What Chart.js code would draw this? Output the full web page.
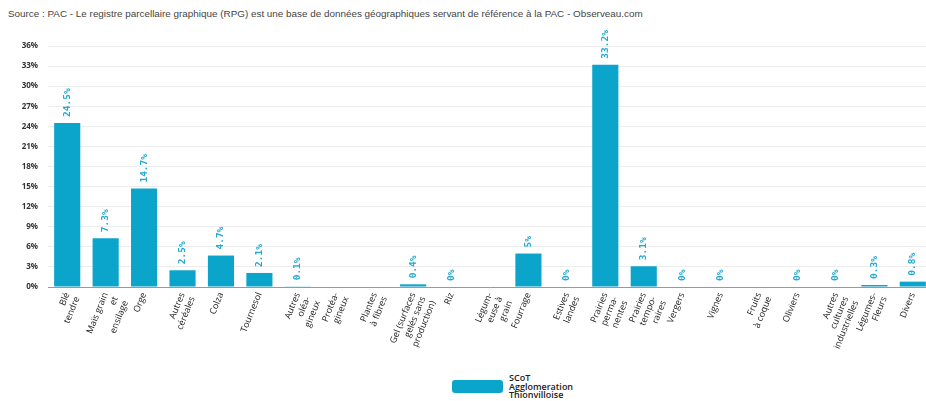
<!DOCTYPE html>
<html lang="fr">
<head>
<meta charset="UTF-8">
<title>Assolement - SCoT Agglomeration Thionvilloise</title>
<script src="https://cdn.jsdelivr.net/npm/chart.js"></script>
<style>
    body {
        margin: 0;
        background: #fff;
        overflow: hidden;
        font-family: "Liberation Sans", Arial, sans-serif;
    }
    .source {
        position: absolute;
        left: 8px;
        top: 8px;
        font-size: 9.9px;
        color: #444;
    }
    .chart-box {
        position: absolute;
        left: 0;
        top: 28px;
        width: 932px;
        height: 332px;
    }
    .legend {
        position: absolute;
        left: 452px;
        top: 374px;
        display: flex;
        align-items: center;
        font-family: "Open Sans", sans-serif;
        font-size: 9px;
        font-weight: 600;
        line-height: 8.5px;
        color: #222;
    }
    .legend .box {
        width: 51px;
        height: 13px;
        border-radius: 3px;
        background: #0ba5cb;
        margin-right: 6px;
    }
</style>
</head>
<body>
<div class="source">Source : PAC - Le registre parcellaire graphique (RPG) est une base de données géographiques servant de référence à la PAC - Observeau.com</div>
<div class="chart-box"><canvas id="rpgChart"></canvas></div>
<div class="legend"><div class="box"></div><div>SCoT<br>Agglomeration<br>Thionvilloise</div></div>

<script>
// categories (multi-line as on the picture)
var categories = [
    ['Blé', 'tendre'],
    ['Maïs grain', 'et', 'ensilage'],
    ['Orge'],
    ['Autres', 'céréales'],
    ['Colza'],
    ['Tournesol'],
    ['Autres', 'oléa-', 'gineux'],
    ['Protéa-', 'gineux'],
    ['Plantes', 'à fibres'],
    ['Gel (surfaces', 'gelés sans', 'production)'],
    ['Riz'],
    ['Légum-', 'euse à', 'grain'],
    ['Fourrage'],
    ['Estives', 'landes'],
    ['Prairies', 'perma-', 'nentes'],
    ['Prairies', 'tempo-', 'raires'],
    ['Vergers'],
    ['Vignes'],
    ['Fruits', 'à coque'],
    ['Oliviers'],
    ['Autres', 'cultures', 'industrielles'],
    ['Légumes-', 'Fleurs'],
    ['Divers']
];

// part of the agricultural area, % (null = no value shown)
var scotValues = [24.5, 7.3, 14.7, 2.5, 4.7, 2.1, 0.1, null, null, 0.4, 0, null,
                  5, 0, 33.2, 3.1, 0, 0, null, 0, 0, 0.3, 0.8];

var yTicks = [0, 3, 6, 9, 12, 15, 18, 21, 24, 27, 30, 33, 36];

var barColor = '#0ba5cb';

// value labels drawn vertically above each bar
var valueLabels = {
    id: 'valueLabels',
    afterDatasetsDraw: function(chart) {
        var ctx = chart.ctx;
        var meta = chart.getDatasetMeta(0);
        ctx.save();
        ctx.fillStyle = '#22a9d2';
        ctx.font = 'bold 9.5px "DejaVu Sans Mono", monospace';
        ctx.textAlign = 'left';
        ctx.textBaseline = 'middle';
        meta.data.forEach(function(bar, i) {
            var v = scotValues[i];
            if (v === null) return;
            ctx.save();
            ctx.translate(bar.x, bar.y - 6);
            ctx.rotate(-Math.PI / 2);
            ctx.fillText(v + '%', 0, 0);
            ctx.restore();
        });
        ctx.restore();
    }
};

new Chart(document.getElementById('rpgChart'), {
    type: 'bar',
    data: {
        labels: categories,
        datasets: [{
            label: 'SCoT Agglomeration Thionvilloise',
            data: scotValues,
            backgroundColor: barColor,
            borderWidth: 0,
            barPercentage: 0.68,
            categoryPercentage: 1
        }]
    },
    options: {
        responsive: true,
        maintainAspectRatio: false,
        animation: false,
        layout: { padding: { top: 18, right: 0, left: 0, bottom: 0 } },
        plugins: {
            legend: { display: false },
            tooltip: { enabled: false }
        },
        scales: {
            x: {
                grid: { display: false, drawTicks: false },
                border: { color: '#999', width: 1 },
                afterFit: function(scale) { scale.height = 73; },
                ticks: {
                    autoSkip: false,
                    minRotation: 68,
                    maxRotation: 68,
                    padding: 4,
                    color: '#222',
                    font: { family: '"Open Sans", sans-serif', size: 9 }
                }
            },
            y: {
                min: 0,
                max: 36,
                afterFit: function(scale) { scale.width = 48; },
                afterBuildTicks: function(scale) {
                    scale.ticks = yTicks.map(function(v) { return { value: v }; });
                },
                grid: { color: '#ececec', drawTicks: false },
                border: { display: false },
                ticks: {
                    padding: 10,
                    color: '#333',
                    font: { family: '"Open Sans", sans-serif', size: 8, weight: 'bold' },
                    callback: function(v) { return v + '%'; }
                }
            }
        }
    },
    plugins: [valueLabels]
});
</script>
</body>
</html>
